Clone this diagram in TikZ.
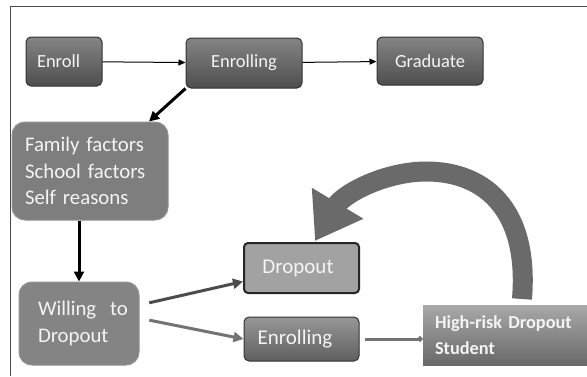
\documentclass[tikz,border=0pt]{standalone}
\usepackage{fontspec}
\setmainfont{Carlito}
\usetikzlibrary{arrows.meta}

\definecolor{boxtop}{HTML}{848484}
\definecolor{boxbot}{HTML}{4E4E4E}
\definecolor{boxline}{HTML}{333333}
\definecolor{flatbox}{HTML}{7E7E7E}
\definecolor{lightbox}{HTML}{A2A2A2}
\definecolor{boxtext}{HTML}{F4F4F4}
\definecolor{looparrow}{HTML}{6A6A6A}

\tikzset{stagebox/.style = {draw = boxline, line width = 1pt, rounded corners = 5pt,
                            top color = boxtop, bottom color = boxbot,
                            text = boxtext, font = \fontsize{18.5}{26.5}\selectfont,
                            inner sep = 0pt, align = center},
         reasonbox/.style = {draw = flatbox!85!white, line width = 1pt, rounded corners = 13pt,
                             fill = flatbox, text = boxtext,
                             font = \fontsize{20.8}{26.5}\selectfont,
                             inner ysep = 0pt, align = left},
         flow/.style = {-{Triangle[length=7pt, width=6pt]}, line width = 1pt},
         bigflow/.style = {-{Triangle[length=10pt, width=10pt]}, line width = 3pt}
        }

\begin{document}
\begin{tikzpicture}[x=1pt, y=-1pt]
  \useasboundingbox (0,0) rectangle (587,376);
  % frame
  \draw[line width=1pt, black!70] (10,376) -- (10,6) -- (587,6);

  % first row
  \node[stagebox, minimum width=76pt, minimum height=49pt,
        text width=54pt, inner xsep=11pt, align=left] (enroll) at (64,61.5) {Enroll};
  \node[stagebox, minimum width=116pt, minimum height=50pt] (enrolling) at (244,63) {Enrolling};
  \node[stagebox, minimum width=106pt, minimum height=48pt] (graduate) at (430,61) {Graduate};

  % reasons
  \node[reasonbox, minimum height=98pt, text width=130pt, inner xsep=13pt] (factors) at (90,171)
       {Family factors\\School factors\\Self reasons};
  \node[reasonbox, fill=flatbox!95!white, minimum height=83pt, text width=82pt, inner xsep=19pt] (willing) at (79,323.5)
       {\mbox{Willing\ \ to}\\Dropout};

  % outcomes
  \node[stagebox, draw=black!85, line width=2pt, rounded corners=4pt, top color=lightbox, bottom color=lightbox,
        font=\fontsize{21}{26}\selectfont,
        minimum width=115pt, minimum height=50pt] (dropout) at (301.5,268) {Dropout\hspace*{7pt}};
  \node[stagebox, top color=boxtop!85!white, bottom color=boxbot!90!white,
        font=\fontsize{21}{26}\selectfont,
        minimum width=115pt, minimum height=44pt] (enrolling2) at (301.5,339) {Enrolling\hspace*{13pt}};
  \node[stagebox, draw=none, rounded corners=0pt, top color=boxtop!70!white, bottom color=boxbot!85!white,
        minimum width=164pt, minimum height=60pt, text width=140pt, inner xsep=12pt, align=left,
        font=\fontsize{18.3}{26}\selectfont\bfseries] (highrisk) at (505,335)
       {High-risk Dropout\\Student};

  % connectors
  \draw[flow] (enroll) -- (enrolling);
  \draw[flow] (enrolling) -- (graduate);
  \draw[bigflow] (enrolling.south west) -- (factors.40);
  \draw[bigflow] (willing.north |- factors.south) -- (willing.north);
  \draw[bigflow, black!70, shorten <=10pt] (willing.17) -- (dropout.193);
  \draw[bigflow, black!55, shorten <=10pt] (willing.5) -- (enrolling2.west);
  \draw[-{Circle[length=5pt]}, line width=3pt, black!55, shorten <=5pt] (enrolling2.east) -- (enrolling2.east -| highrisk.west);

  % loop back
  \coordinate (looptail) at (522,299);
  \coordinate (loophead) at (315,241);
  \draw[looparrow, line width=20pt, -{Triangle[length=44pt, width=57pt]}]
    (looptail) .. controls (530,200) and (475,167) .. (415,172)
               .. controls (375,176) and (342,196) .. (loophead);
\end{tikzpicture}
\end{document}
